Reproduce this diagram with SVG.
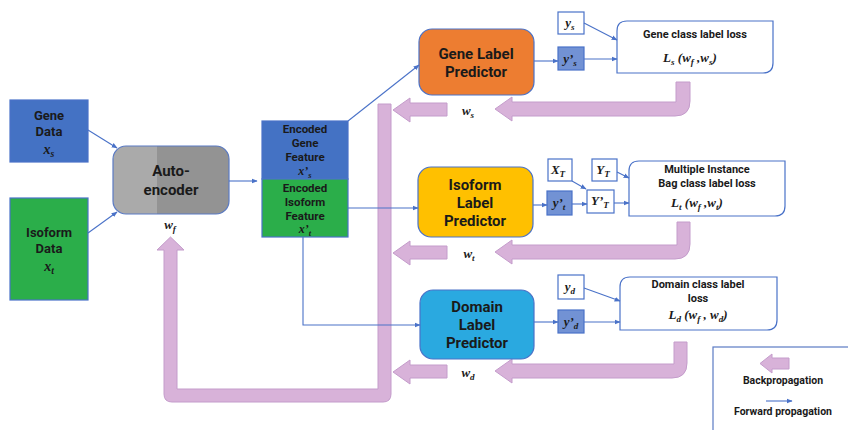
<svg xmlns="http://www.w3.org/2000/svg" width="848" height="430" viewBox="0 0 848 430">
<defs>
<style>
.lbl{font-family:Roboto,"Open Sans","Liberation Sans",sans-serif;font-weight:bold;fill:#1a1a1a;text-anchor:middle}
.m{font-family:"Liberation Serif","DejaVu Serif",serif;font-weight:bold;font-style:italic;fill:#1a1a1a;text-anchor:middle}
.sub{font-size:70%}
.bp{fill:#D8B2D9;stroke:#C49CCB;stroke-width:1}
.con{fill:none;stroke:#4A72C8;stroke-width:1.1}
.box{stroke:#4A72C8;stroke-width:1.2}
.wbox{fill:#fff;stroke:#4A72C8;stroke-width:1.2}
.ybox{fill:#7292D4;stroke:#4A72C8;stroke-width:1.2}
</style>
<marker id="ah" viewBox="0 0 10 10" refX="9" refY="5" markerWidth="6" markerHeight="6" orient="auto" markerUnits="userSpaceOnUse">
<path d="M0,1 L10,5 L0,9 Z" fill="#4A72C8"/>
</marker>
</defs>
<rect width="848" height="430" fill="#fff"/>

<g id="backprop">
<path class="bp" d="M676 82 L690 82 L690 101 Q690 116 675 116 L512 116 L512 121 L495 109 L512 97 L512 102 L676 102 Z"/>
<path class="bp" d="M447 103 L410 103 L410 98 L393 110 L410 122 L410 116 L447 116 Z"/>
<path class="bp" d="M677 222 L690 222 L690 244 Q690 259 675 259 L512 259 L512 264 L495 252 L512 240 L512 245 L677 245 Z"/>
<path class="bp" d="M447 246 L410 246 L410 241 L393 253 L410 265 L410 259 L447 259 Z"/>
<path class="bp" d="M674 342 L687 342 L687 363 Q687 378 672 378 L512 378 L512 383 L495 371 L512 359 L512 364 L674 364 Z"/>
<path class="bp" d="M447 365 L410 365 L410 360 L393 372 L410 384 L410 378 L447 378 Z"/>
<path class="bp" d="M378 104 L391 104 L391 394 Q391 402 383 402 L172 402 Q164 402 164 394 L164 250 L157 250 L170.5 237 L184 250 L177 250 L177 389 L378 389 Z"/>
</g>

<g id="gene-data">
<rect class="box" x="10" y="100" width="78" height="62" fill="#4472C4"/>
<text class="lbl" x="49" y="120" font-size="13">Gene</text>
<text class="lbl" x="49" y="136" font-size="13">Data</text>
<text class="m" x="49" y="154" font-size="14">x<tspan class="sub" dy="3">s</tspan></text>
</g>

<g id="isoform-data">
<rect class="box" x="10" y="198" width="78" height="102" fill="#2BAE4A"/>
<text class="lbl" x="49" y="237" font-size="13">Isoform</text>
<text class="lbl" x="49" y="253" font-size="13">Data</text>
<text class="m" x="49" y="271" font-size="14">x<tspan class="sub" dy="3">t</tspan></text>
</g>

<g id="autoencoder">
<clipPath id="aeclip"><rect x="113" y="146" width="116" height="68" rx="13"/></clipPath>
<g clip-path="url(#aeclip)">
<rect x="113" y="146" width="116" height="68" fill="#AAAAAA"/>
<rect x="157" y="146" width="72" height="68" fill="#939393"/>
</g>
<rect x="113" y="146" width="116" height="68" rx="13" fill="none" stroke="#5B7BC4" stroke-width="1.2"/>
<text class="lbl" x="171" y="176" font-size="15">Auto-</text>
<text class="lbl" x="171" y="195" font-size="15">encoder</text>
<text class="m" x="170" y="229" font-size="13">w<tspan class="sub" dy="3">f</tspan></text>
</g>

<g id="encoded-feature">
<rect class="box" x="262" y="121" width="86" height="58" fill="#4472C4"/>
<rect class="box" x="262" y="179" width="86" height="58" fill="#2BAE4A"/>
<text class="lbl" x="305" y="133" font-size="11.5">Encoded</text>
<text class="lbl" x="305" y="147" font-size="11.5">Gene</text>
<text class="lbl" x="305" y="161" font-size="11.5">Feature</text>
<text class="m" x="305" y="175" font-size="12">x’<tspan class="sub" dy="3">s</tspan></text>
<text class="lbl" x="305" y="192" font-size="11.5">Encoded</text>
<text class="lbl" x="305" y="206" font-size="11.5">Isoform</text>
<text class="lbl" x="305" y="220" font-size="11.5">Feature</text>
<text class="m" x="305" y="233" font-size="12">x’<tspan class="sub" dy="2.5">t</tspan></text>
</g>

<g id="gene-label-predictor">
<rect class="box" x="419" y="29" width="115" height="66" rx="13" fill="#ED7D31"/>
<text class="lbl" x="476" y="59" font-size="15">Gene Label</text>
<text class="lbl" x="476" y="77" font-size="15">Predictor</text>
<text class="m" x="468" y="115" font-size="13">w<tspan class="sub" dy="3">s</tspan></text>
</g>

<g id="ys">
<rect class="wbox" x="558" y="12" width="26" height="22"/>
<text class="m" x="570" y="27" font-size="13">y<tspan class="sub" dy="3">s</tspan></text>
</g>
<g id="ys-pred">
<rect class="ybox" x="558" y="47" width="26" height="23"/>
<text class="m" x="570" y="63" font-size="13">y’<tspan class="sub" dy="3">s</tspan></text>
</g>
<g id="gene-loss">
<path class="wbox" d="M627 21 L773 21 L773 63 Q773 73 763 73 L617 73 L617 31 Q617 21 627 21 Z"/>
<text class="lbl" x="695" y="38" font-size="11">Gene class label loss</text>
<text class="m" x="690" y="62" font-size="13">L<tspan class="sub" dy="3">s</tspan><tspan dy="-3"> (w</tspan><tspan class="sub" dy="3">f</tspan><tspan dy="-3"> ,w</tspan><tspan class="sub" dy="3">s</tspan><tspan dy="-3">)</tspan></text>
</g>

<g id="isoform-label-predictor">
<rect class="box" x="418" y="167" width="115" height="70" rx="13" fill="#FFC000"/>
<text class="lbl" x="475" y="190" font-size="15">Isoform</text>
<text class="lbl" x="475" y="208" font-size="15">Label</text>
<text class="lbl" x="475" y="226" font-size="15">Predictor</text>
<text class="m" x="469" y="258" font-size="13">w<tspan class="sub" dy="3">t</tspan></text>
</g>
<g id="xT">
<rect class="wbox" x="548" y="159" width="24" height="22"/>
<text class="m" x="558" y="174" font-size="13">X<tspan class="sub" dy="3">T</tspan></text>
</g>
<g id="yT">
<rect class="wbox" x="592" y="159" width="25" height="22"/>
<text class="m" x="603" y="174" font-size="13">Y<tspan class="sub" dy="3">T</tspan></text>
</g>
<g id="yt-pred">
<rect class="ybox" x="547" y="191" width="25" height="24"/>
<text class="m" x="559" y="207" font-size="13">y’<tspan class="sub" dy="3">t</tspan></text>
</g>
<g id="yT-pred">
<rect class="wbox" x="587" y="190" width="27" height="23"/>
<text class="m" x="600" y="205" font-size="13">Y’<tspan class="sub" dy="3">T</tspan></text>
</g>
<g id="isoform-loss">
<path class="wbox" d="M639 161 L785 161 L785 206 Q785 216 775 216 L629 216 L629 171 Q629 161 639 161 Z"/>
<text class="lbl" x="707" y="173" font-size="11">Multiple Instance</text>
<text class="lbl" x="707" y="187" font-size="11">Bag class label loss</text>
<text class="m" x="697" y="207" font-size="13">L<tspan class="sub" dy="3">t</tspan><tspan dy="-3"> (w</tspan><tspan class="sub" dy="3">f</tspan><tspan dy="-3"> ,w</tspan><tspan class="sub" dy="3">t</tspan><tspan dy="-3">)</tspan></text>
</g>

<g id="domain-label-predictor">
<rect class="box" x="420" y="290" width="114" height="69" rx="13" fill="#2AA9E0"/>
<text class="lbl" x="477" y="312" font-size="15">Domain</text>
<text class="lbl" x="477" y="330" font-size="15">Label</text>
<text class="lbl" x="477" y="348" font-size="15">Predictor</text>
<text class="m" x="468" y="377" font-size="13">w<tspan class="sub" dy="3">d</tspan></text>
</g>
<g id="yd">
<rect class="wbox" x="558" y="275" width="26" height="24"/>
<text class="m" x="570" y="291" font-size="13">y<tspan class="sub" dy="3">d</tspan></text>
</g>
<g id="yd-pred">
<rect class="ybox" x="558" y="310" width="26" height="23"/>
<text class="m" x="571" y="326" font-size="13">y’<tspan class="sub" dy="3">d</tspan></text>
</g>
<g id="domain-loss">
<path class="wbox" d="M630 277 L777 277 L777 320 Q777 330 767 330 L620 330 L620 287 Q620 277 630 277 Z"/>
<text class="lbl" x="698" y="288" font-size="11">Domain class label</text>
<text class="lbl" x="698" y="302" font-size="11">loss</text>
<text class="m" x="698" y="319" font-size="13">L<tspan class="sub" dy="3">d</tspan><tspan dy="-3"> (w</tspan><tspan class="sub" dy="3">f</tspan><tspan dy="-3"> , w</tspan><tspan class="sub" dy="3">d</tspan><tspan dy="-3">)</tspan></text>
</g>

<g id="legend">
<rect x="713" y="347" width="140" height="90" fill="#fff" stroke="#5B7BC4" stroke-width="1.2"/>
<path class="bp" d="M789 358 L772 358 L772 354 L760 363.5 L772 373 L772 369 L789 369 Z"/>
<text class="lbl" x="783" y="384" font-size="10.5">Backpropagation</text>
<line class="con" x1="766" y1="401" x2="792" y2="401" marker-end="url(#ah)"/>
<text class="lbl" x="783" y="415" font-size="10.5">Forward propagation</text>
</g>

<g id="connectors">
<line class="con" x1="88" y1="130" x2="117" y2="148" marker-end="url(#ah)"/>
<line class="con" x1="88" y1="233" x2="117" y2="212" marker-end="url(#ah)"/>
<line class="con" x1="229" y1="181" x2="257" y2="181" marker-end="url(#ah)"/>
<line class="con" x1="348" y1="121" x2="419" y2="65" marker-end="url(#ah)"/>
<line class="con" x1="348" y1="208" x2="418" y2="208" marker-end="url(#ah)"/>
<polyline class="con" points="303,237 303,325 420,325" marker-end="url(#ah)"/>
<line class="con" x1="534" y1="61" x2="558" y2="61" marker-end="url(#ah)"/>
<line class="con" x1="584" y1="23" x2="617" y2="40" marker-end="url(#ah)"/>
<line class="con" x1="584" y1="59" x2="617" y2="59" marker-end="url(#ah)"/>
<line class="con" x1="533" y1="205" x2="547" y2="205" marker-end="url(#ah)"/>
<line class="con" x1="572" y1="204" x2="587" y2="204" marker-end="url(#ah)"/>
<line class="con" x1="572" y1="181" x2="586" y2="189" marker-end="url(#ah)"/>
<line class="con" x1="617" y1="172" x2="629" y2="178" marker-end="url(#ah)"/>
<line class="con" x1="614" y1="203" x2="629" y2="203" marker-end="url(#ah)"/>
<line class="con" x1="534" y1="322" x2="558" y2="322" marker-end="url(#ah)"/>
<line class="con" x1="584" y1="288" x2="620" y2="301" marker-end="url(#ah)"/>
<line class="con" x1="584" y1="322" x2="620" y2="322" marker-end="url(#ah)"/>
</g>
</svg>
